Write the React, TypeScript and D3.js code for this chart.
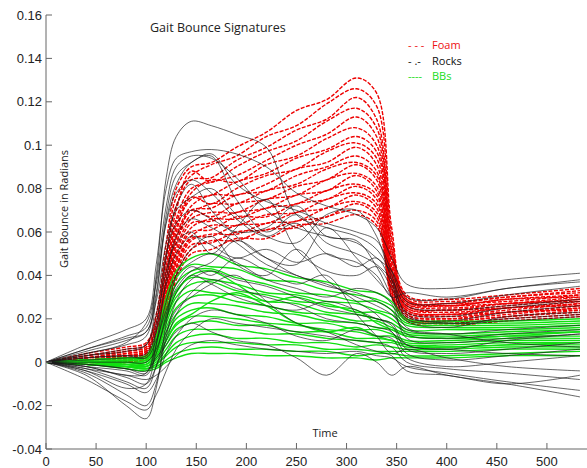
import React from "react";
import * as d3 from "d3";

const W = 587;
const H = 468;

// sample times shared by every curve
const times = [0, 40, 80, 100, 110, 120, 130, 145, 165, 190, 220, 250, 280, 310, 330, 345, 360, 400, 460, 533];

// gait bounce, in milliradians
const foamCurves = [
  [0, 4, 7, 9, 22, 55, 80, 90, 92, 99, 106, 116, 121, 131, 124, 62, 31, 29, 31, 34],
  [0, 3, 6, 8, 20, 50, 76, 86, 91, 95, 104, 109, 119, 126, 118, 58, 30, 28, 30, 33],
  [0, 3, 5, 7, 18, 48, 72, 84, 85, 93, 99, 107, 112, 122, 112, 55, 29, 27, 30, 32],
  [0, 2, 5, 7, 16, 44, 70, 88, 83, 90, 97, 102, 111, 117, 108, 52, 29, 26, 29, 31],
  [0, 2, 4, 6, 15, 42, 66, 80, 83, 86, 93, 100, 105, 113, 104, 50, 28, 27, 28, 31],
  [0, 2, 4, 6, 14, 40, 64, 78, 84, 83, 91, 95, 103, 108, 100, 48, 28, 26, 29, 30],
  [0, 2, 3, 5, 13, 38, 62, 75, 77, 83, 87, 94, 98, 104, 97, 46, 27, 25, 27, 30],
  [0, 1, 3, 5, 12, 36, 60, 76, 73, 80, 86, 89, 97, 101, 94, 44, 27, 26, 27, 29],
  [0, 1, 3, 5, 12, 35, 58, 72, 77, 77, 82, 89, 92, 99, 91, 43, 26, 24, 26, 29],
  [0, 1, 3, 4, 11, 34, 57, 70, 71, 77, 79, 86, 90, 95, 88, 42, 26, 24, 27, 28],
  [0, 1, 2, 4, 10, 32, 55, 68, 73, 73, 79, 82, 89, 92, 86, 41, 25, 23, 25, 28],
  [0, 1, 2, 4, 10, 31, 54, 70, 67, 73, 75, 81, 84, 91, 84, 40, 25, 24, 25, 27],
  [0, 1, 2, 3, 9, 30, 52, 66, 69, 69, 75, 77, 84, 87, 81, 39, 24, 22, 24, 27],
  [0, 1, 2, 3, 9, 29, 50, 64, 65, 69, 71, 77, 79, 86, 79, 38, 24, 22, 25, 26],
  [0, 0, 1, 3, 8, 28, 48, 62, 66, 66, 71, 73, 79, 82, 77, 37, 23, 21, 23, 26],
  [0, 0, 1, 3, 8, 27, 47, 60, 61, 67, 67, 73, 75, 81, 75, 36, 23, 22, 23, 25],
  [0, 0, 1, 2, 7, 26, 46, 58, 63, 63, 68, 69, 75, 78, 73, 35, 22, 20, 22, 25],
  [0, 0, 1, 2, 7, 25, 44, 57, 58, 63, 64, 69, 71, 77, 71, 34, 22, 20, 23, 24],
  [0, 0, 0, 2, 6, 24, 43, 56, 59, 59, 64, 65, 71, 74, 69, 33, 21, 19, 21, 24],
  [0, 0, 0, 2, 6, 22, 41, 54, 55, 60, 61, 65, 67, 73, 67, 32, 20, 19, 21, 23],
  [0, 0, 0, 1, 5, 21, 40, 52, 56, 56, 61, 62, 67, 70, 65, 31, 20, 18, 20, 22],
  [0, -1, 0, 1, 5, 20, 38, 50, 52, 57, 57, 63, 64, 68, 63, 30, 19, 17, 19, 21],
];

const rocksCurves = [
  [0, 4, 8, 12, 40, 85, 104, 111, 109, 105, 99, 68, 62, 58, 52, 40, 22, 18, 19, 21],
  [0, 8, 15, 20, 45, 80, 94, 97, 98, 96, 90, 78, 72, 68, 62, 48, 36, 34, 38, 41],
  [0, 6, 12, 16, 38, 72, 90, 95, 94, 85, 70, 62, 58, 55, 48, 42, 30, 29, 34, 37],
  [0, 3, 5, 8, 30, 65, 82, 92, 95, 75, 60, 68, 55, 50, 45, 38, 26, 24, 26, 29],
  [0, -2, -6, -5, 15, 48, 72, 82, 70, 58, 48, 45, 62, 48, 38, 30, 19, 16, 21, 23],
  [0, -4, -12, -10, 8, 38, 58, 66, 62, 55, 45, 40, 35, 32, 28, 24, 13, 11, 13, 15],
  [0, -6, -20, -26, -12, 18, 40, 52, 58, 45, 40, 52, 38, 28, 22, 14, 8, 6, 10, 13],
  [0, -5, -15, -20, -10, 12, 28, 38, 42, 38, 35, 30, 25, 22, 20, 17, 6, 4, 6, 9],
  [0, -2, -7, -10, -2, 10, 22, 32, 38, 34, 30, 26, 20, 18, 16, 14, 4, 1, 3, 6],
  [0, -8, -18, -22, -15, -4, 6, 14, 20, 18, 16, 14, 12, 10, 9, 7, 0, -3, -5, -8],
  [0, -3, -6, -8, -6, -2, 3, 8, 10, 8, 6, 5, 4, 5, 3, 2, -2, -5, -9, -13],
  [0, 2, 3, 4, 18, 42, 55, 60, 50, 62, 75, 52, 42, 40, 44, 34, 21, 19, 23, 26],
  [0, 5, 10, 14, 28, 55, 70, 76, 80, 68, 58, 55, 68, 70, 58, 38, 23, 21, 25, 28],
  [0, -1, -3, -5, 8, 28, 40, 46, 50, 46, 38, 34, 30, 34, 32, 27, 11, 9, 11, 13],
  [0, -4, -10, -14, -8, 4, 12, 20, 24, 22, 18, 12, 10, 15, 12, 11, 2, -2, 0, 3],
  [0, 2, 3, 2, 10, 24, 34, 42, 46, 56, 48, 40, 36, 30, 26, 22, 15, 13, 15, 17],
  [0, -1, -3, -4, 2, 8, 14, 18, 14, 10, 8, 2, -6, 4, 0, -6, -2, -6, -10, -16],
  [0, 3, 6, 8, 22, 50, 64, 70, 66, 60, 62, 72, 58, 56, 44, 30, 16, 13, 9, 7],
  [0, 0, 0, 0, 6, 20, 32, 40, 36, 30, 26, 24, 28, 24, 20, 18, 8, 6, 4, 3],
  [0, 6, 11, 14, 32, 68, 86, 92, 96, 82, 74, 70, 64, 60, 56, 42, 28, 27, 31, 35],
  [0, -3, -9, -12, -2, 14, 24, 30, 36, 40, 28, 18, 14, 8, 5, 3, -4, -6, -10, -6],
  [0, 1, 2, 3, 14, 36, 50, 58, 54, 48, 52, 46, 50, 44, 48, 36, 20, 18, 20, 22],
  [0, -2, -4, -6, 4, 22, 36, 44, 40, 48, 42, 36, 40, 22, 12, 4, 6, 2, -2, -4],
  [0, 4, 9, 18, 36, 64, 78, 84, 78, 66, 58, 64, 50, 46, 40, 30, 32, 30, 34, 38],
];

const bbCurves = [
  [0, 1, 2, 3, 12, 30, 42, 48, 50, 45, 43, 39, 37, 33, 32, 28, 20, 19, 19, 20],
  [0, 1, 2, 2, 10, 27, 39, 45, 44, 43, 38, 37, 33, 31, 29, 26, 19, 18, 18, 19],
  [0, 1, 1, 2, 9, 24, 36, 42, 43, 39, 36, 32, 31, 28, 28, 24, 18, 17, 17, 18],
  [0, 0, 1, 1, 8, 22, 33, 39, 38, 36, 32, 31, 28, 27, 24, 22, 17, 16, 16, 17],
  [0, 0, 0, 1, 7, 20, 30, 36, 37, 33, 31, 28, 27, 23, 23, 20, 15, 15, 15, 16],
  [0, 0, 0, 0, 6, 18, 28, 33, 32, 31, 28, 27, 23, 22, 20, 18, 14, 13, 14, 15],
  [0, 0, 0, 0, 5, 16, 25, 30, 31, 28, 26, 23, 22, 19, 19, 16, 13, 12, 13, 14],
  [0, 0, -1, -1, 4, 14, 22, 27, 27, 26, 23, 22, 19, 18, 16, 15, 12, 11, 12, 12],
  [0, 0, -1, -1, 3, 12, 20, 24, 25, 22, 21, 18, 18, 15, 15, 13, 10, 10, 11, 11],
  [0, 0, -1, -2, 2, 10, 17, 21, 21, 20, 18, 17, 15, 14, 12, 12, 9, 9, 10, 10],
  [0, -1, -1, -2, 1, 8, 15, 18, 19, 17, 17, 14, 14, 11, 11, 10, 8, 8, 9, 9],
  [0, -1, -2, -2, 0, 6, 12, 15, 15, 15, 13, 13, 11, 10, 9, 9, 7, 7, 8, 8],
  [0, -1, -2, -3, -1, 4, 9, 12, 13, 11, 11, 9, 9, 7, 8, 7, 6, 6, 7, 7],
  [0, -1, -2, -3, -1, 3, 7, 9, 9, 9, 8, 8, 6, 6, 5, 5, 5, 5, 6, 6],
  [0, -1, -2, -3, -2, 1, 4, 6, 7, 6, 6, 5, 5, 3, 4, 4, 3, 3, 4, 5],
  [0, -1, -3, -4, -3, 0, 2, 4, 4, 4, 3, 3, 2, 2, 1, 2, 2, 2, 3, 3],
  [0, 1, 2, 2, 8, 20, 32, 40, 42, 36, 28, 30, 26, 24, 18, 15, 12, 11, 12, 14],
  [0, 0, 0, -1, 3, 10, 18, 22, 28, 32, 26, 18, 14, 16, 12, 10, 8, 7, 8, 9],
];

const xTicks = [0, 50, 100, 150, 200, 250, 300, 350, 400, 450, 500];
const yTicks = [-0.04, -0.02, 0, 0.02, 0.04, 0.06, 0.08, 0.1, 0.12, 0.14, 0.16];
const yTickLabels = ["-0.04", "-0.02", "0", "0.02", "0.04", "0.06", "0.08", "0.1", "0.12", "0.14", "0.16"];

const legendItems = [
  { label: "Foam", sample: "- - -", color: "#ee1111" },
  { label: "Rocks", sample: "- .-", color: "#111111" },
  { label: "BBs", sample: "----", color: "#22dd22" },
];

const x = d3.scaleLinear().domain([0, 540]).range([46, 587]);
const y = d3.scaleLinear().domain([-0.04, 0.16]).range([449, 15]);

const line = d3
  .line<number>()
  .x((_, i) => x(times[i]))
  .y((v) => y(v / 1000))
  .curve(d3.curveCatmullRom.alpha(0.5));

const axisColor = "#666";
const tickFont = "'Liberation Sans', Arial, sans-serif";
const labelFont = "'Open Sans', 'Noto Sans', sans-serif";

export default function App() {
  return (
    <svg
      width={W}
      height={H}
      style={{ position: "absolute", left: 0, top: 0, background: "#fff" }}
    >
      <g fill="none">
        {foamCurves.map((c, i) => (
          <path key={"f" + i} d={line(c) || ""} stroke="#ee0000" strokeWidth={1.4} strokeDasharray="4,1.5" />
        ))}
        {bbCurves.map((c, i) => (
          <path key={"b" + i} d={line(c) || ""} stroke="#11e011" strokeWidth={1.4} />
        ))}
        {rocksCurves.map((c, i) => (
          <path key={"r" + i} d={line(c) || ""} stroke="#1a1a1a" strokeWidth={0.8} opacity={0.85} />
        ))}
      </g>

      {/* axes */}
      <line x1={46} x2={46} y1={15} y2={449} stroke={axisColor} />
      <line x1={46} x2={W} y1={449} y2={449} stroke={axisColor} />
      {yTicks.map((t, i) => (
        <g key={"yt" + i} transform={`translate(46,${y(t)})`}>
          <line x2={6} stroke={axisColor} />
          <text x={-4} dy="0.35em" textAnchor="end" fontSize={13} fontFamily={tickFont} fill="#222">
            {yTickLabels[i]}
          </text>
        </g>
      ))}
      {xTicks.map((t) => (
        <g key={"xt" + t} transform={`translate(${x(t)},449)`}>
          <line y2={-6} stroke={axisColor} />
          <text y={17} textAnchor="middle" fontSize={13} fontFamily={tickFont} fill="#222">
            {t}
          </text>
        </g>
      ))}

      <text x={150} y={32} fontSize={12.5} fontFamily={labelFont} fill="#222">
        Gait Bounce Signatures
      </text>
      <text x={325} y={437} textAnchor="middle" fontSize={11} fontFamily={labelFont} fill="#222">
        Time
      </text>
      <text
        transform="translate(68,209) rotate(-90)"
        textAnchor="middle"
        fontSize={11}
        fontFamily={labelFont}
        fill="#222"
      >
        Gait Bounce in Radians
      </text>

      {legendItems.map((d, i) => (
        <g key={d.label} transform={`translate(408,${49 + i * 15.5})`} fontFamily={labelFont} fontSize={11}>
          <text fill={d.color}>{d.sample}</text>
          <text x={24} fill={d.color}>{d.label}</text>
        </g>
      ))}
    </svg>
  );
}
